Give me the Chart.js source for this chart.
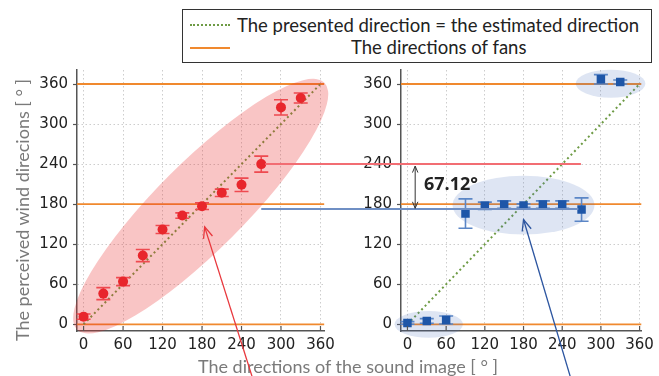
<!DOCTYPE html>
<html>
<head>
<meta charset="utf-8">
<script src="https://cdn.jsdelivr.net/npm/chart.js@4.4.1/dist/chart.umd.min.js"></script>
<style>
body { margin: 0; width: 659px; height: 376px; overflow: hidden; background: #fff; position: relative; font-family: Lato, sans-serif; }
canvas { position: absolute; top: 0; }
#leftChart { left: 0; }
#rightChart { left: 335px; }
#overlay { left: 0; pointer-events: none; z-index: 5; }
#legend { position: absolute; left: 182px; top: 9px; width: 470px; height: 54px; box-sizing: border-box; border: 1.5px solid #333; background: #fff; z-index: 4; }
#legend .sample { position: absolute; left: 7px; width: 40px; height: 0; }
#legend .txt { position: absolute; font-size: 18.5px; line-height: 22px; color: #222; white-space: nowrap; }
.title { position: absolute; font-size: 18px; line-height: 22px; color: #7a7a7a; white-space: nowrap; text-align: center; }
#gap { position: absolute; left: 424px; top: 171px; font: bold 18px "Open Sans", sans-serif; color: #222; }
</style>
</head>
<body>
<canvas id="leftChart" width="340" height="376"></canvas>
<canvas id="rightChart" width="324" height="376"></canvas>

<div id="legend">
  <div class="sample" style="top:14px;border-top:2px dotted #6e9b45"></div>
  <div class="txt" style="left:54px;top:4px">The presented direction = the estimated direction</div>
  <div class="sample" style="top:37px;border-top:2px solid #f0892e"></div>
  <div class="txt" style="left:168px;top:26px">The directions of fans</div>
</div>
<div class="title" style="left:-128px;top:199px;width:300px;transform:rotate(-90deg)">The perceived wind direcions [ ° ]</div>
<div class="title" style="left:148px;top:355px;width:400px">The directions of the sound image [ ° ]</div>
<div id="gap">67.12°</div>

<canvas id="overlay" width="659" height="376"></canvas>

<script>
// valori
const soundDirections = [0, 30, 60, 90, 120, 150, 180, 210, 240, 270, 300, 330];
const perceivedLeft = [11.5, 46, 64, 103, 142, 163, 177, 197, 209, 240, 325, 339];
const errorLeft = [4, 9, 6, 9, 6, 4, 5, 5.5, 10, 12, 11.5, 7.5];
const perceivedRight = [2, 5, 6.5, 166, 177.5, 179.5, 178, 179.5, 179.5, 172, 367, 363];
const errorRight = [2, 3.5, 6, 22, 5.5, 5.5, 2.5, 5.5, 5.5, 17.5, 7, 3];
const fanDirections = [0, 180, 360];
const axisTicks = [0, 60, 120, 180, 240, 300, 360];
const estimatedLeft = 240;
const estimatedRight = 240 - 67.12;

const FAN_COLOR = '#f0892e';
const DIAG_COLOR = '#6e9b45';

// disegna le barre di errore e le ellissi prima dei punti
const errorBarPlugin = {
    id: 'errorBars',
    beforeDatasetDraw(chart, args, opts) {
        if (args.index !== 0) return;
        const ctx = chart.ctx;
        const xs = chart.scales.x, ys = chart.scales.y;
        ctx.save();
        // ellissi
        (opts.ellipses || []).forEach(e => {
            let cx, cy, a, b, rot;
            if (e.from) {
                const x1 = xs.getPixelForValue(e.from[0]), y1 = ys.getPixelForValue(e.from[1]);
                const x2 = xs.getPixelForValue(e.to[0]), y2 = ys.getPixelForValue(e.to[1]);
                cx = (x1 + x2) / 2; cy = (y1 + y2) / 2;
                a = Math.hypot(x2 - x1, y2 - y1) / 2;
                b = e.minor;
                rot = Math.atan2(y2 - y1, x2 - x1);
            } else {
                cx = xs.getPixelForValue(e.c[0]); cy = ys.getPixelForValue(e.c[1]);
                a = Math.abs(xs.getPixelForValue(e.c[0] + e.rx) - cx);
                b = Math.abs(ys.getPixelForValue(e.c[1] + e.ry) - cy);
                rot = 0;
            }
            ctx.beginPath();
            ctx.ellipse(cx, cy, a, b, rot, 0, Math.PI * 2);
            ctx.fillStyle = opts.fill;
            ctx.fill();
        });
        // barre di errore
        ctx.strokeStyle = opts.color;
        ctx.lineWidth = 1.6;
        soundDirections.forEach((x, i) => {
            const px = xs.getPixelForValue(x);
            const top = ys.getPixelForValue(opts.values[i] + opts.errors[i]);
            const bot = ys.getPixelForValue(opts.values[i] - opts.errors[i]);
            ctx.beginPath();
            ctx.moveTo(px, top); ctx.lineTo(px, bot);
            ctx.moveTo(px - 7, top); ctx.lineTo(px + 7, top);
            ctx.moveTo(px - 7, bot); ctx.lineTo(px + 7, bot);
            ctx.stroke();
        });
        ctx.restore();
    },
    afterDraw(chart) {
        // tacche interne sull'asse x
        const ctx = chart.ctx;
        const xs = chart.scales.x, area = chart.chartArea;
        ctx.save();
        ctx.strokeStyle = '#555';
        ctx.lineWidth = 1.2;
        axisTicks.forEach(v => {
            const px = xs.getPixelForValue(v);
            ctx.beginPath();
            ctx.moveTo(px, area.bottom); ctx.lineTo(px, area.bottom - 5);
            ctx.stroke();
        });
        ctx.restore();
    }
};

function makeChart(id, values, errors, cfg) {
    const points = soundDirections.map((x, i) => ({ x: x, y: values[i] }));
    const fans = fanDirections.map(d => ({
        data: [{ x: cfg.xMin, y: d }, { x: cfg.xMax, y: d }],
        showLine: true, borderColor: FAN_COLOR, borderWidth: 1.8,
        pointRadius: 0, order: 2
    }));
    return new Chart(document.getElementById(id), {
        type: 'scatter',
        data: {
            datasets: [
                {
                    data: points,
                    pointStyle: cfg.pointStyle,
                    pointRadius: cfg.pointRadius,
                    backgroundColor: cfg.pointColor,
                    borderColor: cfg.pointColor,
                    borderWidth: 0,
                    order: 0
                },
                {
                    data: [{ x: 0, y: 0 }, { x: 360, y: 360 }],
                    showLine: true, borderColor: DIAG_COLOR, borderWidth: 2,
                    borderDash: [2, 3], pointRadius: 0, order: 1
                },
                ...fans
            ]
        },
        options: {
            responsive: false,
            animation: false,
            layout: { padding: { top: 70, bottom: 0, left: 0, right: cfg.padRight } },
            plugins: {
                legend: { display: false },
                tooltip: { enabled: false },
                errorBars: {
                    values: values, errors: errors, color: cfg.barColor,
                    fill: cfg.ellipseFill, ellipses: cfg.ellipses
                }
            },
            scales: {
                x: {
                    type: 'linear', min: cfg.xMin, max: cfg.xMax,
                    afterFit: s => { s.height = 45; },
                    afterBuildTicks: s => { s.ticks = axisTicks.map(v => ({ value: v })); },
                    ticks: { color: '#222', font: { family: 'DejaVu Sans', size: 15 }, padding: 5, maxRotation: 0, autoSkip: false },
                    grid: { color: '#cdcdcd', lineWidth: 1, drawTicks: false },
                    border: { color: '#555', width: 1.5, dash: [1.5, 2.5] }
                },
                y: {
                    type: 'linear', min: -10, max: 381,
                    afterFit: s => { s.width = cfg.yWidth; },
                    afterBuildTicks: s => { s.ticks = axisTicks.map(v => ({ value: v })); },
                    ticks: { color: '#222', font: { family: 'DejaVu Sans', size: 15 }, padding: 5, autoSkip: false },
                    grid: { color: '#cdcdcd', lineWidth: 1, drawTicks: true, tickLength: 4, tickColor: '#555', tickWidth: 1.2 },
                    border: { color: '#555', width: 1.5, dash: [1.5, 2.5] }
                }
            }
        },
        plugins: [errorBarPlugin]
    });
}

const leftChart = makeChart('leftChart', perceivedLeft, errorLeft, {
    xMin: -10, xMax: 366, padRight: 13, yWidth: 77,
    pointStyle: 'circle', pointRadius: 5, pointColor: '#e8262c', barColor: '#ee4a50',
    ellipseFill: 'rgba(232, 40, 40, 0.27)',
    ellipses: [{ from: [-10, -8], to: [366, 362], minor: 44 }]
});

const rightChart = makeChart('rightChart', perceivedRight, errorRight, {
    xMin: -10, xMax: 363, padRight: 11, yWidth: 66,
    pointStyle: 'rect', pointRadius: 6, pointColor: '#1e56a8', barColor: '#5b86c6',
    ellipseFill: 'rgba(70, 110, 190, 0.18)',
    ellipses: [
        { c: [33, 0], rx: 53, ry: 20 },
        { c: [180, 178.5], rx: 110, ry: 44 },
        { c: [315, 360.5], rx: 54, ry: 21 }
    ]
});

// linee e frecce che collegano i due grafici
const ov = document.getElementById('overlay').getContext('2d');
const LEFT_OFFSET = 0, RIGHT_OFFSET = 335;

function toPx(chart, offset, x, y) {
    return [offset + chart.scales.x.getPixelForValue(x), chart.scales.y.getPixelForValue(y)];
}

function line(p1, p2, color, width) {
    ov.beginPath();
    ov.moveTo(p1[0], p1[1]); ov.lineTo(p2[0], p2[1]);
    ov.strokeStyle = color; ov.lineWidth = width;
    ov.stroke();
}

function arrowHead(tip, from, color, size, width) {
    const ang = Math.atan2(tip[1] - from[1], tip[0] - from[0]);
    ov.beginPath();
    ov.moveTo(tip[0] - size * Math.cos(ang - 0.4), tip[1] - size * Math.sin(ang - 0.4));
    ov.lineTo(tip[0], tip[1]);
    ov.lineTo(tip[0] - size * Math.cos(ang + 0.4), tip[1] - size * Math.sin(ang + 0.4));
    ov.strokeStyle = color; ov.lineWidth = width;
    ov.stroke();
}

// linea rossa (240) e blu (172.88)
const redY = rightChart.scales.y.getPixelForValue(estimatedLeft);
line([toPx(leftChart, LEFT_OFFSET, 276, 0)[0], redY], [toPx(rightChart, RIGHT_OFFSET, 269, 0)[0], redY], '#f26d73', 2);
const blueY = rightChart.scales.y.getPixelForValue(estimatedRight);
line([toPx(leftChart, LEFT_OFFSET, 270, 0)[0], blueY], [toPx(rightChart, RIGHT_OFFSET, 265, 0)[0], blueY], '#6f8fc4', 2);

// doppia freccia della differenza
const dTop = toPx(rightChart, RIGHT_OFFSET, 12, estimatedLeft - 3);
const dBot = toPx(rightChart, RIGHT_OFFSET, 12, estimatedRight + 1);
line(dTop, dBot, '#333', 1);
arrowHead(dTop, dBot, '#333', 7, 1);
arrowHead(dBot, dTop, '#333', 7, 1);

// frecce verso le ellissi
const redTip = toPx(leftChart, LEFT_OFFSET, 184, 146);
const redTail = toPx(leftChart, LEFT_OFFSET, 256, -78);
line(redTail, redTip, '#e8383d', 1.3);
arrowHead(redTip, redTail, '#e8383d', 12, 1.3);

const blueTip = toPx(rightChart, RIGHT_OFFSET, 180, 157);
const blueTail = toPx(rightChart, RIGHT_OFFSET, 253, -80);
line(blueTail, blueTip, '#2c55a0', 1.3);
arrowHead(blueTip, blueTail, '#2c55a0', 12, 1.3);
</script>
</body>
</html>
